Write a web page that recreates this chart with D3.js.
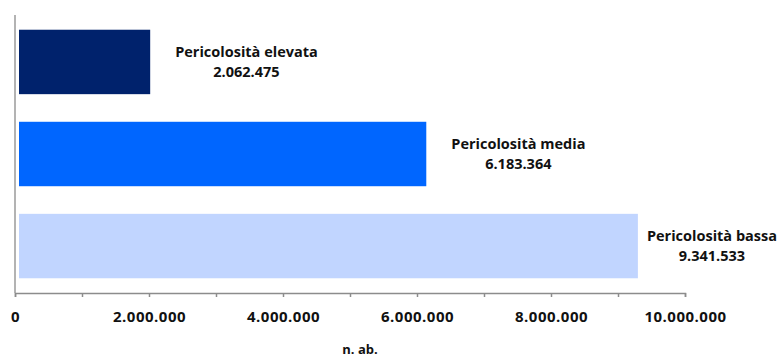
<!DOCTYPE html>
<html>
<head>
<meta charset="utf-8">
<script src="https://cdn.jsdelivr.net/npm/d3@7"></script>
<style>
  html, body { margin: 0; padding: 0; background: #fff; }
  svg { display: block; }
  text { font-family: "Open Sans", "Noto Sans", sans-serif; font-weight: bold; fill: #111; }
</style>
</head>
<body>
<svg id="chart" width="779" height="358"></svg>
<script>
// Popolazione per classe di pericolosità (n. ab.)
const categories = ["Pericolosità elevata", "Pericolosità media", "Pericolosità bassa"];
const values = [2062475, 6183364, 9341533];
const colors = ["#00226C", "#0066FF", "#C1D5FF"];
const tickValues = [0, 1000000, 2000000, 3000000, 4000000, 5000000, 6000000, 7000000, 8000000, 9000000, 10000000];
const axisTitle = "n. ab.";

const W = 779;
const svg = d3.select("#chart");
const x0 = 15, x1 = 685, yTop = 15, yBase = 293;

const x = d3.scaleLinear().domain([0, 10000000]).range([x0, x1]);
const y = d3.scaleBand().domain(categories).range([yTop, yBase]).paddingInner(0.3).paddingOuter(0.16);

const fmt = d => d3.format(",")(d).replace(/,/g, ".");

// bars
svg.selectAll("rect.bar")
  .data(categories)
  .join("rect")
  .attr("class", "bar")
  .attr("x", x(0) + 4)
  .attr("y", d => y(d))
  .attr("width", (d, i) => x(values[i]) - x(0) - 7)
  .attr("height", y.bandwidth())
  .attr("fill", (d, i) => colors[i]);

// value labels: category name over the value, kept inside the drawing
const lab = svg.selectAll("g.lab")
  .data(categories)
  .join("g")
  .attr("class", "lab");
lab.each(function (d, i) {
  const g = d3.select(this);
  const cy = y(d) + y.bandwidth() / 2;
  const t1 = g.append("text").attr("font-size", 14.5).text(d);
  const w = t1.node().getComputedTextLength();
  const cx = Math.min(x(values[i]) + 22 + w / 2, W - 2 - w / 2);
  t1.attr("x", cx).attr("y", cy - 5).attr("text-anchor", "middle");
  g.append("text").attr("font-size", 14.5)
    .attr("x", cx).attr("y", cy + 15).attr("text-anchor", "middle")
    .text(fmt(values[i]));
});

// vertical axis line
svg.append("line")
  .attr("x1", x0).attr("x2", x0)
  .attr("y1", yTop).attr("y2", yBase)
  .attr("stroke", "#b3b3b3").attr("stroke-width", 2);

// horizontal axis: minor ticks every million, labels every two
const axis = d3.axisBottom(x)
  .tickValues(tickValues)
  .tickSize(4)
  .tickPadding(14)
  .tickFormat(d => (d % 2000000 === 0 ? fmt(d) : ""));
const ax = svg.append("g").attr("transform", `translate(0,${yBase})`).call(axis);
ax.select(".domain").attr("stroke", "#8c8c8c").attr("stroke-width", 1.5);
ax.selectAll(".tick line").attr("stroke", "#8c8c8c").attr("stroke-width", 1.5);
ax.selectAll(".tick text")
  .attr("font-size", 15)
  .attr("letter-spacing", "0.5px")
  .attr("font-family", "\"Open Sans\", \"Noto Sans\", sans-serif")
  .attr("font-weight", "bold")
  .attr("fill", "#111");

svg.append("text")
  .attr("x", 360).attr("y", 354)
  .attr("text-anchor", "middle")
  .attr("font-size", 13)
  .text(axisTitle);
</script>
</body>
</html>
